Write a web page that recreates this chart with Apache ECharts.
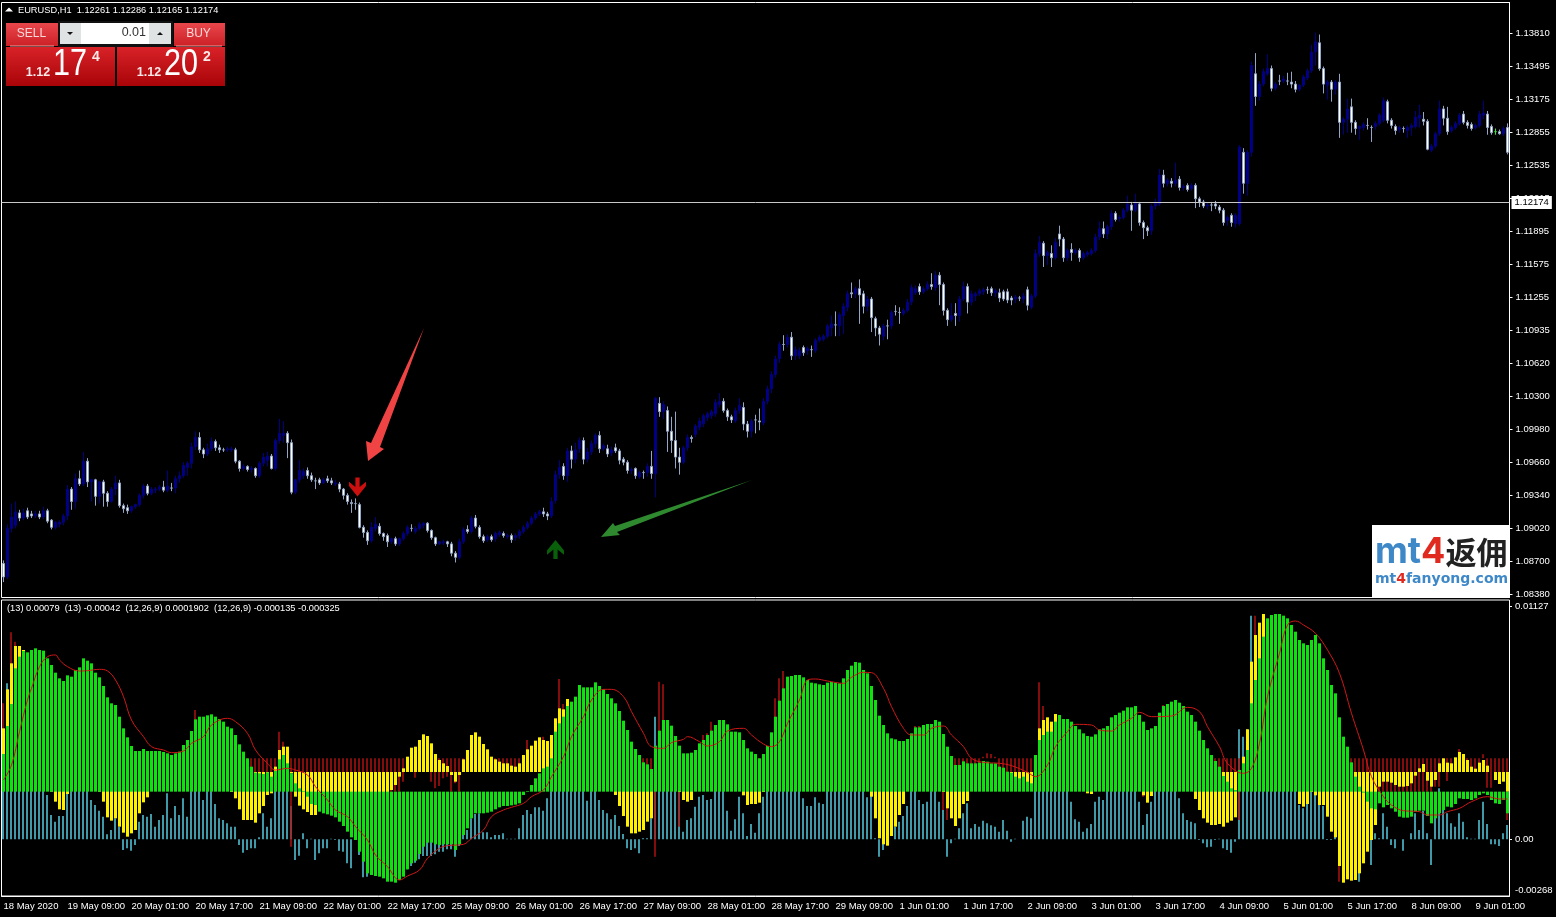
<!DOCTYPE html>
<html><head><meta charset="utf-8">
<style>html,body{margin:0;padding:0;background:#000}#c{width:1556px;height:917px}</style>
<script src="https://cdn.jsdelivr.net/npm/echarts@6/dist/echarts.min.js"></script>
</head><body><div id="c"></div>
<script>
const priceTicks=[1.1381,1.13495,1.13175,1.12855,1.12535,1.12215,1.11895,1.11575,1.11255,1.10935,1.1062,1.103,1.0998,1.0966,1.0934,1.0902,1.087,1.0838];
const timeLabels=['18 May 2020','19 May 09:00','20 May 01:00','20 May 17:00','21 May 09:00','22 May 01:00','22 May 17:00','25 May 09:00','26 May 01:00','26 May 17:00','27 May 09:00','28 May 01:00','28 May 17:00','29 May 09:00','1 Jun 01:00','1 Jun 17:00','2 Jun 09:00','3 Jun 01:00','3 Jun 17:00','4 Jun 09:00','5 Jun 01:00','5 Jun 17:00','8 Jun 09:00','9 Jun 01:00'];
const lastBid=1.12174;
// open, close, low, high per hour, pips above 1.0000
const ohlcPips=[868,855,850,871,855,902,853,906,902,913,898,926,905,918,902,928,917,912,909,920,912,917,910,921,919,913,911,922,916,914,912,919,914,916,912,919,916,913,911,919,
913,919,911,923,919,909,907,921,910,903,901,911,903,908,901,909,906,908,903,910,908,914,905,916,914,940,910,944,940,928,920,942,928,950,921,955,950,945,943,958,
945,967,943,976,967,947,942,970,947,949,928,950,949,933,924,950,933,947,926,948,947,936,923,949,936,928,923,938,928,940,927,942,940,946,934,953,946,924,922,949,
924,921,917,926,922,919,916,925,919,923,917,924,923,925,921,926,925,934,923,936,934,943,931,945,943,936,934,945,936,940,934,942,939,940,936,942,940,942,938,944,
942,939,937,948,939,943,937,958,941,941,938,946,941,950,936,953,950,953,946,957,953,963,951,966,961,965,953,967,965,981,960,985,981,990,978,996,990,978,975,995,
978,974,970,980,974,979,972,984,979,986,977,990,986,980,977,988,980,978,975,983,978,978,976,980,978,979,976,981,978,979,976,981,978,967,965,980,967,960,957,968,
960,962,958,964,962,959,957,963,959,960,956,962,960,953,951,961,953,965,951,967,965,971,962,975,968,972,962,976,972,960,959,974,960,987,958,989,987,994,984,1008,
992,994,985,1006,994,985,970,996,985,937,935,988,937,949,935,950,949,958,946,968,953,957,950,960,958,953,950,961,953,949,947,956,948,948,940,951,949,946,944,951,
946,949,945,951,950,948,946,953,948,946,944,951,945,946,943,949,945,940,937,947,940,934,930,941,934,928,925,936,927,926,917,930,926,926,920,931,925,903,902,927,
903,898,893,905,898,890,886,900,890,903,888,908,902,906,899,913,904,897,895,907,897,894,890,898,895,889,884,897,889,892,887,893,892,887,885,894,887,892,885,893,
892,897,890,899,897,903,895,905,902,902,899,906,899,902,897,904,902,906,900,908,905,907,902,908,907,900,898,908,900,893,891,901,893,887,885,894,887,889,886,890,
888,889,886,891,889,887,884,890,887,878,875,889,878,874,869,880,874,889,872,892,889,901,887,903,901,899,897,905,899,912,897,914,912,904,902,915,903,894,892,905,
894,890,888,896,891,894,889,896,894,891,889,896,892,897,889,899,896,898,894,900,897,895,893,899,894,895,892,897,895,891,888,897,893,895,890,897,895,899,892,901,
899,903,897,905,903,907,901,909,907,912,905,914,912,916,910,918,916,918,914,920,918,916,913,922,916,914,910,918,914,928,912,932,929,954,926,958,954,961,950,968,
962,953,949,965,953,977,947,980,977,969,960,982,969,978,965,985,979,987,975,990,987,969,964,990,969,976,966,980,976,984,973,987,984,992,980,994,992,979,975,996,
979,982,977,984,979,974,971,983,975,978,972,981,980,977,975,984,977,968,964,979,969,966,963,971,966,958,955,968,958,959,955,961,960,953,950,961,952,956,950,958,
956,956,950,958,956,962,952,965,962,955,950,977,955,1028,932,1029,1023,1015,1010,1029,1015,1022,1008,1025,1016,996,976,1020,996,987,975,1010,987,971,960,1015,971,966,954,980,
966,980,964,982,980,990,977,993,990,989,985,992,993,1001,990,1003,1000,1006,997,1009,1003,1011,1000,1013,1009,1013,1006,1015,1011,1015,1008,1017,1013,1024,1010,1027,1022,1025,1019,1033,
1025,1016,1014,1028,1016,1010,1006,1018,1010,1007,1004,1012,1006,1016,1004,1019,1016,1021,1013,1028,1019,1003,997,1024,1003,996,990,1006,996,1006,990,1008,1007,1007,994,1012,1006,1005,997,1018,
1004,1025,1002,1028,1025,1037,1022,1040,1037,1051,1033,1054,1051,1066,1048,1069,1066,1080,1062,1083,1080,1080,1074,1089,1080,1087,1077,1090,1087,1069,1065,1092,1069,1075,1065,1078,1069,1074,1066,1077,
1077,1072,1069,1079,1074,1076,1070,1078,1075,1075,1068,1079,1074,1084,1072,1086,1084,1087,1082,1089,1085,1088,1083,1090,1088,1098,1086,1100,1096,1100,1088,1108,1099,1099,1088,1112,1098,1109,1088,1111,
1108,1117,1090,1120,1116,1129,1112,1132,1130,1129,1125,1140,1129,1134,1125,1136,1134,1128,1100,1143,1129,1117,1110,1132,1117,1124,1112,1127,1124,1106,1092,1126,1105,1096,1088,1107,1096,1090,1079,1098,
1088,1098,1084,1100,1098,1098,1085,1104,1098,1111,1095,1113,1112,1112,1108,1118,1111,1111,1100,1116,1110,1113,1108,1115,1113,1121,1111,1124,1121,1135,1118,1138,1130,1134,1128,1137,1136,1131,1128,1139,
1131,1134,1129,1136,1134,1138,1132,1141,1138,1136,1133,1149,1135,1147,1132,1151,1147,1138,1118,1150,1138,1113,1108,1140,1113,1104,1098,1115,1104,1108,1102,1120,1110,1108,1098,1120,1108,1124,1102,1127,
1124,1136,1122,1141,1136,1121,1110,1139,1121,1129,1118,1132,1127,1129,1122,1131,1129,1132,1127,1134,1131,1133,1128,1135,1133,1133,1129,1136,1134,1130,1127,1136,1130,1132,1126,1134,1130,1125,1121,1134,
1131,1124,1122,1133,1131,1123,1120,1134,1125,1123,1118,1127,1124,1126,1120,1128,1125,1125,1122,1127,1124,1127,1120,1130,1133,1118,1113,1136,1116,1127,1114,1129,1127,1168,1125,1172,1168,1179,1165,1185,
1178,1166,1155,1180,1166,1169,1157,1171,1168,1164,1155,1176,1164,1179,1162,1183,1187,1182,1175,1195,1182,1164,1160,1184,1164,1171,1161,1173,1172,1169,1161,1178,1169,1171,1167,1173,1171,1164,1160,1173,
1164,1168,1162,1170,1167,1169,1165,1171,1168,1171,1166,1173,1171,1184,1169,1187,1184,1192,1181,1199,1192,1187,1183,1199,1187,1194,1182,1196,1194,1207,1191,1210,1207,1201,1199,1209,1202,1203,1199,1205,
1203,1210,1201,1212,1210,1216,1208,1224,1215,1210,1190,1218,1210,1217,1208,1226,1216,1198,1195,1218,1198,1193,1182,1200,1193,1190,1185,1195,1190,1214,1186,1216,1214,1218,1211,1221,1216,1244,1214,1250,
1244,1236,1232,1249,1236,1239,1233,1241,1238,1236,1232,1241,1236,1239,1233,1256,1240,1232,1229,1243,1232,1233,1229,1235,1234,1230,1228,1236,1231,1234,1229,1236,1234,1221,1212,1236,1221,1218,1213,1223,
1218,1214,1212,1220,1214,1215,1211,1217,1215,1215,1209,1218,1216,1214,1211,1219,1213,1210,1207,1215,1210,1198,1195,1212,1200,1203,1195,1205,1205,1198,1194,1207,1197,1205,1193,1207,1197,1271,1195,1273,
1266,1236,1226,1270,1236,1266,1224,1268,1266,1350,1262,1354,1342,1320,1311,1362,1320,1332,1316,1335,1332,1344,1330,1347,1342,1347,1340,1361,1347,1328,1325,1350,1328,1332,1326,1334,1335,1335,1331,1341,
1335,1337,1333,1340,1335,1335,1331,1343,1334,1332,1328,1344,1332,1327,1324,1335,1327,1331,1325,1332,1331,1339,1329,1341,1338,1345,1336,1347,1345,1363,1343,1370,1363,1373,1350,1382,1372,1347,1345,1380,
1347,1332,1323,1349,1331,1334,1317,1336,1334,1327,1315,1336,1327,1334,1322,1336,1334,1295,1280,1342,1295,1298,1283,1300,1298,1308,1285,1318,1310,1295,1285,1318,1295,1289,1283,1297,1289,1291,1278,1292,
1290,1293,1287,1295,1292,1292,1288,1299,1290,1290,1276,1292,1291,1294,1288,1296,1294,1302,1292,1304,1297,1316,1295,1319,1315,1297,1294,1317,1297,1292,1289,1299,1291,1287,1283,1293,1288,1290,1285,1292,
1289,1289,1285,1291,1287,1290,1280,1292,1290,1292,1282,1294,1291,1300,1289,1306,1299,1302,1290,1312,1298,1296,1292,1305,1296,1269,1268,1298,1268,1272,1266,1274,1272,1284,1270,1286,1284,1308,1282,1316,
1308,1299,1292,1311,1299,1286,1283,1310,1287,1290,1285,1292,1290,1294,1288,1296,1294,1302,1292,1304,1303,1295,1293,1306,1295,1292,1289,1297,1293,1289,1287,1295,1290,1292,1288,1294,1292,1303,1290,1306,
1302,1304,1298,1316,1303,1290,1283,1306,1291,1285,1283,1293,1286,1286,1283,1289,1286,1284,1283,1288,1284,1289,1282,1291,1290,1266,1264,1294];
const limeDoji=[373];
const sellSignal=[88,1.0942];
const buySignal=[138,1.08815];
// indicator readings, in steps of 0.0000161
const greenHist=[113,197,263,370,405,422,418,425,430,425,
423,400,380,357,340,332,349,345,365,373,
400,393,385,357,343,317,283,265,260,225,
190,163,137,122,122,128,122,122,122,122,
119,115,110,115,120,140,155,182,217,225,
225,229,232,225,218,210,195,190,170,142,
120,100,75,57,55,53,58,45,62,97,
110,85,55,25,10,2,-15,-37,-40,-60,
-65,-68,-72,-77,-90,-103,-120,-137,-145,-180,
-210,-245,-250,-253,-255,-260,-270,-270,-273,-265,
-255,-233,-215,-207,-187,-165,-153,-153,-158,-160,
-158,-158,-158,-175,-158,-130,-110,-80,-65,-65,
-65,-63,-60,-53,-47,-43,-43,-41,-39,-35,
-10,2,20,40,55,70,75,100,180,205,
225,257,270,285,320,313,313,313,328,317,
307,293,280,265,242,213,185,150,128,110,
88,82,68,138,183,215,215,198,167,138,
115,115,117,125,145,155,170,183,200,215,
215,202,180,180,178,155,130,120,113,100,
113,137,178,225,273,310,345,347,350,350,
343,335,327,325,322,320,327,329,327,325,
340,365,378,389,387,365,355,317,275,228,
200,175,160,157,152,152,158,175,193,193,
200,203,203,215,210,173,135,107,80,80,
91,85,85,85,87,92,90,85,85,75,
72,60,57,45,40,45,30,25,110,155,
170,180,180,210,230,218,218,210,197,187,
175,167,165,172,187,190,197,223,230,237,
243,253,253,257,230,210,185,190,197,237,
257,263,270,275,267,257,240,230,210,183,
155,130,110,92,75,47,30,10,5,65,
85,125,265,335,400,465,520,530,533,533,
528,520,500,480,455,445,440,455,470,445,
400,365,320,295,223,165,135,88,45,15,
-3,-30,-50,-53,-35,-47,-40,-50,-60,-75,
-78,-78,-75,-60,-57,-57,-73,-95,-80,-65,
-55,-45,-47,-37,-20,-22,-22,-25,-20,-10,
-5,-10,-25,-35,-37,-25,-65];
const yellowHist=[131,248,326,378,378,366,346,316,256,186,
66,-24,-59,-89,-112,-114,-66,-29,-4,16,
26,16,-4,-34,-59,-89,-136,-146,-139,-164,
-182,-194,-184,-174,-124,-91,-76,-54,-34,-10,
10,20,25,25,30,30,30,40,45,50,
40,30,20,5,-10,-20,-40,-60,-79,-112,
-144,-144,-144,-152,-124,-102,-69,-64,16,66,
76,76,-4,-74,-101,-112,-120,-129,-129,-90,
-90,-90,-90,-90,-90,-90,-90,-90,-90,-90,
-90,-90,-90,-90,-90,-90,-90,-54,-39,-14,
11,46,73,76,96,113,108,86,54,36,
26,18,-9,-29,-9,38,66,111,119,106,
84,68,46,38,31,26,26,19,16,26,
51,68,79,94,104,96,93,111,161,191,
188,219,160,140,120,90,60,30,10,-10,
-20,-30,-45,-69,-102,-132,-164,-184,-184,-179,
-174,-149,-139,-20,-10,0,-5,-20,-40,-60,
-84,-89,-84,-40,-20,10,30,30,30,20,
10,0,-10,-30,-50,-70,-99,-96,-96,-92,
-60,-30,0,30,60,100,150,200,250,200,
200,180,150,120,100,80,60,40,20,0,
0,0,0,0,-10,-20,-30,-74,-139,-199,
-217,-221,-192,-164,-129,-96,-40,-20,0,10,
20,20,10,-10,-30,-60,-109,-139,-162,-139,
-96,-87,-40,-30,-20,-30,-20,-20,-20,-30,
-30,-30,-10,-20,-30,-40,-40,-40,51,131,
156,164,151,174,100,60,40,20,0,-20,
-40,-64,-66,-40,-20,10,40,60,70,70,
60,40,10,-20,-50,-70,-92,-72,-40,0,
30,50,60,60,50,30,-10,-50,-81,-114,
-139,-152,-159,-159,-156,-164,-152,-146,-136,-4,
46,128,331,411,448,474,456,430,400,360,
330,300,200,50,-96,-104,-96,-60,-70,-99,
-99,-134,-179,-196,-282,-332,-322,-326,-324,-304,
-274,-239,-204,-159,-44,-29,-29,-32,-39,-44,
-44,-42,-34,-11,11,24,-26,-44,-24,26,
41,28,26,44,60,54,36,16,10,28,
36,19,0,-24,-36,-29,-59];
const cyanHist=[150,468,150,150,150,150,150,150,150,150,
150,133,73,53,70,70,138,150,150,150,
150,150,118,103,86,68,15,28,63,38,
-32,-27,-34,-17,53,73,68,76,38,58,
73,138,63,100,73,123,68,150,150,150,
118,150,150,106,63,58,48,38,38,-17,
-40,-32,-27,-27,6,78,38,63,150,150,
150,150,100,-62,-49,18,-27,2,-62,-42,
-27,-27,2,-2,-34,-37,-72,-87,-2,-47,
-114,-112,-100,-100,-100,-100,-120,-120,-120,-120,
-100,-90,-80,-70,-60,-50,-50,-50,-45,-37,
-37,-30,-30,-52,-20,28,28,63,76,78,
21,21,6,13,13,18,2,2,2,33,
73,88,76,96,96,86,123,150,150,150,
150,150,150,150,150,150,116,150,150,118,
88,78,60,73,40,16,-27,-32,-27,-42,
3,3,63,368,150,150,150,150,150,150,
23,58,63,98,128,133,118,121,150,150,
150,86,26,60,128,78,10,46,20,78,
128,150,150,150,150,150,150,150,150,150,
123,100,100,126,110,106,150,150,150,150,
150,150,150,150,150,150,126,130,3,-52,
-32,0,0,38,53,70,100,150,150,118,
106,113,150,150,113,88,-52,-12,2,33,
78,108,33,46,38,56,48,42,38,23,
58,26,-7,2,0,56,68,63,150,150,
150,150,150,150,150,150,150,113,60,53,
23,33,46,113,128,118,150,150,150,150,
150,150,150,150,113,43,76,113,150,150,
150,150,150,150,123,78,58,53,48,-2,
-12,-24,-22,-2,2,-27,-32,-40,-7,330,
308,330,671,150,150,150,150,150,150,150,
150,150,150,150,103,93,150,150,150,150,
100,-2,-2,8,50,50,50,50,50,-127,
50,50,-77,18,3,78,38,-17,-27,0,
-34,0,18,78,28,85,18,-77,78,153,
98,78,48,38,78,53,6,2,2,58,
113,46,-15,-15,-20,18,43];
const redHist=[165,-41,378,350,-41,-41,-41,-41,-41,-41,
-41,-41,-41,-41,-41,-41,-41,-41,-41,-41,
-41,-41,-41,-41,-41,-41,-41,-41,-41,-41,
-41,-41,-41,-41,-41,-41,-41,-41,-41,-41,
-41,-41,-41,-41,-41,-41,-41,-41,145,-41,
-41,-41,-41,-41,-41,-41,-41,-41,-41,-41,
-41,-41,-41,-41,-41,-41,-41,-41,-41,80,
50,-41,-265,-41,-41,-41,-41,-41,-41,-41,
-41,-41,-41,-41,-41,-41,-41,-41,-41,-41,
-41,-41,-41,-41,-41,-41,-41,-100,-100,-100,
-70,-41,-41,-58,-41,-41,-41,-70,-90,-83,
-60,-55,-100,-75,-100,-41,-41,-41,-41,-41,
-41,-41,-41,-41,-41,-41,-41,-41,-41,-41,
-41,55,-41,-41,-41,65,-41,-41,-41,238,
163,-41,-41,-41,-41,-41,-41,-41,-41,-41,
-41,-41,-41,-41,-41,-41,-41,-41,-41,-41,
-41,-41,-41,-295,230,222,-41,-41,-41,-205,
-41,-41,-41,-41,-41,70,75,110,-41,-41,
-41,-41,-41,-41,-41,-41,-41,-41,-41,-41,
-41,-41,-41,180,240,262,-41,-41,-41,-41,
-41,-41,-41,-41,-41,-41,-41,-41,-41,-41,
-41,-41,-41,-41,-41,-41,-41,-41,-41,-41,
-41,-41,-41,-41,-41,-41,-41,-41,97,97,
-41,-41,-41,-41,-41,-155,-185,-41,-41,-41,
-41,-41,-41,-41,-41,5,15,13,5,-41,
-41,-41,-41,-41,-41,-41,-41,-41,-41,228,
157,-41,-41,-41,-41,-41,-41,-41,-41,-41,
-41,-41,-41,-41,-41,-41,-41,-41,-41,-41,
-41,-41,-41,-41,-41,-115,-41,-41,-41,-41,
160,-41,-41,-41,-41,-41,-41,-41,-41,-41,
-41,-41,-41,-41,-41,-41,-41,-41,-41,-185,
-41,-41,-41,428,-41,-41,-41,-41,-41,-41,
-41,-41,-41,-41,-41,-41,-41,-41,-41,-41,
-41,-41,-41,-41,-370,-41,-41,-41,-41,-41,
-41,-41,-41,-41,-100,-100,-100,-100,-100,-100,
-100,-100,-100,-100,-100,-100,-100,-100,-85,-85,
-41,-68,-41,-41,28,-41,-41,-41,-41,-41,
12,-88,-88,-41,-41,-41,-185];
const signalBars=[0,2,4,6,7,9,11,13,14,16,19,21,24,26,28,30,32,35,37,40,42,45,47,50,52,56,58,61,63,66,68,71,73,76,78,81,83,86,88,91,93,96,99,101,104,106,109,111,115,117,120,122,125,127,130,132,135,137,140,142,145,147,150,152,155,157,160,162,165,167,170,171,174,176,179,181,185,187,190,192,194,196,199,201,203,206,210,212,215,217,220,222,225,227,230,232,235,237,240,242,245,249,252,256,258,261,263,266,268,272,274,277,279,282,284,287,292,296,299,301,304,306,310,312,314,316,319,321,323,325,328,331,334,337,340,342,345,347,350,354,356,359,361,364,367,371,374,376];
const signalVals=[35,80,180,275,310,375,405,410,395,375,362,363,367,362,335,285,215,165,135,125,117,122,145,165,200,220,210,175,125,85,65,70,65,50,15,-25,-55,-75,-105,-145,-190,-225,-265,-253,-235,-200,-170,-162,-158,-140,-115,-75,-55,-47,-35,-15,5,45,105,165,225,275,307,307,285,240,175,135,130,147,157,165,150,137,150,182,190,170,143,135,150,205,275,335,338,332,325,343,358,357,310,255,190,170,170,190,197,170,135,100,88,85,78,58,45,80,135,180,202,200,185,182,200,220,238,225,227,253,240,195,135,85,55,70,145,285,415,500,512,500,475,425,355,235,125,45,-15,-40,-57,-60,-70,-70,-60,-50,-30,-15,-22,-22];
const lowerTickValues=[0.01127,0,-0.00245];
const lowerTickLabels=['0.01127','0.00','-0.00268'];

const step=0.0000161, paneSpan=888;
const toPrice=v=>1+v/10000;
const scaled=a=>a.map(v=>v*step);
const categories=greenHist.map((_,i)=>String(i));
const candleData=categories.map((_,i)=>{
  const r=ohlcPips.slice(i*4,i*4+4).map(toPrice);
  return limeDoji.includes(i)?{value:r,itemStyle:{borderColor:'#3ce03c',borderColor0:'#3ce03c',borderColorDoji:'#3ce03c'}}:r;
});
const FONT='"Liberation Sans",sans-serif';
const txt=(x,y,t,size,o={})=>({type:'text',x,y,scaleX:o.scaleX||1,silent:true,style:Object.assign({text:t,fill:'#fff',font:`${o.weight||'normal'} ${size}px ${o.family||FONT}`,textAlign:o.align||'left',textVerticalAlign:'middle'},o.style||{})});
const grad=(a,b)=>({type:'linear',x:0,y:0,x2:0,y2:1,colorStops:[{offset:0,color:a},{offset:1,color:b}]});
const rect=(x,y,w,h,fill)=>({type:'rect',shape:{x,y,width:w,height:h},style:{fill},silent:true});
const poly=(pts,fill)=>({type:'polygon',shape:{points:pts},style:{fill},silent:true});
const hiddenX=(g)=>({type:'category',gridIndex:g,data:categories,show:false});
const lowerY=(g,base,extra)=>Object.assign({type:'value',gridIndex:g,min:(base-paneSpan)*step,max:base*step,show:false,splitLine:{show:false},scale:false},extra||{});
const tickEvery=i=>i%16===0;

const chart=echarts.init(document.getElementById('c'),null,{renderer:'canvas'});
chart.setOption({
  animation:false,backgroundColor:'#000',
  grid:[
    {left:1.5,width:1508,top:2.5,height:595,show:true,borderColor:'#fff',borderWidth:1,backgroundColor:'#000'},
    {left:1.5,width:1508,top:600,height:296,show:true,borderColor:'#fff',borderWidth:1,backgroundColor:'#000'},
    {left:1,width:1508,top:600,height:296,show:false}
  ],
  xAxis:[
    {type:'category',gridIndex:0,data:categories,axisLine:{show:false},axisTick:{show:false},axisLabel:{show:false},splitLine:{show:false}},
    {type:'category',gridIndex:1,data:categories,axisLine:{onZero:false,lineStyle:{color:'#fff'}},
      axisTick:{alignWithLabel:true,interval:(i)=>tickEvery(i),length:3,lineStyle:{color:'#fff'}},
      axisLabel:{interval:(i)=>tickEvery(i),color:'#fff',fontFamily:FONT,fontSize:9.5,align:'left',margin:5,formatter:(v,i)=>timeLabels[i/16]||''},splitLine:{show:false}},
    hiddenX(1),hiddenX(2),hiddenX(2)
  ],
  yAxis:[
    {type:'value',gridIndex:0,position:'right',min:1.08351,max:1.1411,scale:true,
      axisLine:{show:true,lineStyle:{color:'#fff'}},axisTick:{show:true,customValues:priceTicks,length:3,lineStyle:{color:'#fff'}},
      axisLabel:{customValues:priceTicks,color:'#fff',fontFamily:FONT,fontSize:9.5,margin:6,formatter:v=>v.toFixed(5)},
      splitLine:{show:false}},
    lowerY(2,718,{show:true,position:'right',axisLine:{show:false},
      axisTick:{show:true,customValues:lowerTickValues.slice(0,2),length:3,lineStyle:{color:'#fff'}},
      axisLabel:{customValues:lowerTickValues,color:'#fff',fontFamily:FONT,fontSize:9.5,margin:6,
        formatter:v=>{let b=0;lowerTickValues.forEach((t,k)=>{if(Math.abs(t-v)<Math.abs(lowerTickValues[b]-v))b=k;});return lowerTickLabels[b];}}}),
    lowerY(2,475),lowerY(1,516),lowerY(1,575)
  ],
  series:[
    {type:'candlestick',xAxisIndex:0,yAxisIndex:0,data:candleData,barWidth:3,z:3,
      itemStyle:{color:'#00008a',color0:'#ffffff',borderColor:'#000080',borderColor0:'#92a6c6',borderColorDoji:'#92a6c6',borderWidth:1},
      markLine:{silent:true,symbol:'none',animation:false,precision:5,data:[{yAxis:lastBid}],
        lineStyle:{color:'#c8c8c8',width:1,type:'solid'},
        label:{show:true,position:'end',distance:2,formatter:()=>lastBid.toFixed(5),color:'#000',backgroundColor:'#fff',padding:[2,3,1,3],fontFamily:FONT,fontSize:9.5}}},
    {type:'scatter',xAxisIndex:0,yAxisIndex:0,data:[sellSignal],symbol:'path://M8 18 L0 8 L0 4 L6 9 L6 0 L10 0 L10 9 L16 4 L16 8 Z',symbolSize:[17,19],symbolOffset:[2,0],itemStyle:{color:'#ff1414'},z:6},
    {type:'scatter',xAxisIndex:0,yAxisIndex:0,data:[buySignal],symbol:'path://M8 0 L16 10 L16 14 L10 9 L10 18 L6 18 L6 9 L0 14 L0 10 Z',symbolSize:[17,19],itemStyle:{color:'#0c780c'},z:6},
    {name:'cyan',type:'bar',xAxisIndex:3,yAxisIndex:1,data:scaled(cyanHist),barWidth:1.5,itemStyle:{color:'#55cde0'},z:1},
    {name:'dark red',type:'bar',xAxisIndex:4,yAxisIndex:2,data:scaled(redHist),barWidth:1.5,itemStyle:{color:'#b01010'},z:2},
    {name:'yellow',type:'bar',xAxisIndex:1,yAxisIndex:3,data:scaled(yellowHist),barWidth:3,itemStyle:{color:'#fff000'},z:3},
    {name:'green',type:'bar',xAxisIndex:2,yAxisIndex:4,data:scaled(greenHist),barWidth:3,itemStyle:{color:'#10e010'},z:4},
    {name:'signal',type:'line',xAxisIndex:2,yAxisIndex:4,data:signalBars.map((b,k)=>[b,signalVals[k]*step]),smooth:0.4,showSymbol:false,lineStyle:{color:'#d01818',width:1},z:5}
  ],
  graphic:{elements:[
    poly([[9,7.5],[13,11.5],[5,11.5]],'#fff'),
    txt(18,10,'EURUSD,H1  1.12261 1.12286 1.12165 1.12174',9.27),
    txt(7,608,'(13) 0.00079  (13) -0.00042  (12,26,9) 0.0001902  (12,26,9) -0.000135 -0.000325',9.27),
    // trade panel
    rect(6,23,52,23,grad('#e8474c','#cc2026')),
    rect(174,23,51,23,grad('#e8474c','#cc2026')),
    rect(10,45.5,44,1,'#f0a0a0'),rect(176,45.5,46,1,'#f0a0a0'),
    rect(58,21,115,26,'#111'),
    rect(60,23,21,21,'#dfe3e3'),rect(81,23,68,21,'#fff'),rect(149,23,22,21,'#dfe3e3'),
    poly([[67,32],[73,32],[70,35]],'#111'),poly([[157,35],[163,35],[160,32]],'#111'),
    txt(31.5,33.5,'SELL',12,{align:'center',style:{fill:'#f8d8d8'}}),
    txt(198.5,33.5,'BUY',12,{align:'center',style:{fill:'#f8d8d8'}}),
    txt(146,33,'0.01',12.5,{align:'right',style:{fill:'#333'}}),
    rect(6,47,109,39,grad('#d82228','#a80408')),
    rect(117,47,108,39,grad('#d82228','#a80408')),
    txt(38,72.5,'1.12',12.5,{align:'center',weight:'bold',style:{fill:'#fbe8e8'}}),
    txt(53,65,'17',36,{scaleX:0.85}),
    txt(96,57,'4',14,{align:'center',weight:'bold',style:{fill:'#fbe8e8'}}),
    txt(149,72.5,'1.12',12.5,{align:'center',weight:'bold',style:{fill:'#fbe8e8'}}),
    txt(164,65,'20',36,{scaleX:0.85}),
    txt(207,57,'2',14,{align:'center',weight:'bold',style:{fill:'#fbe8e8'}}),
    // hand-drawn arrows
    poly([[424,328],[380,447],[384,449],[368,461],[366,441],[371,443]],'#f04444'),
    poly([[752,480],[617,532],[620,535],[601,537],[613,523],[615,526]],'#2f8a2f'),
    // watermark
    rect(1372,525,138,72,'#fff'),
    {type:'text',x:1375,y:552,silent:true,style:{text:'{a|mt}{b|4}{c|返佣}',textVerticalAlign:'middle',
      rich:{a:{fill:'#3f88c8',font:'bold 36px "Inter",sans-serif'},b:{fill:'#e02a20',font:'bold 36px "Inter",sans-serif'},c:{fill:'#222',font:'bold 31px "Noto Sans CJK SC",sans-serif'}}}},
    {type:'text',x:1375,y:579,silent:true,style:{text:'{a|mt}{b|4}{a|fanyong.com}',textVerticalAlign:'middle',
      rich:{a:{fill:'#3f88c8',font:'bold 14px "DejaVu Sans",sans-serif'},b:{fill:'#e02a20',font:'bold 14px "DejaVu Sans",sans-serif'}}}}
  ]}
});
</script></body></html>
